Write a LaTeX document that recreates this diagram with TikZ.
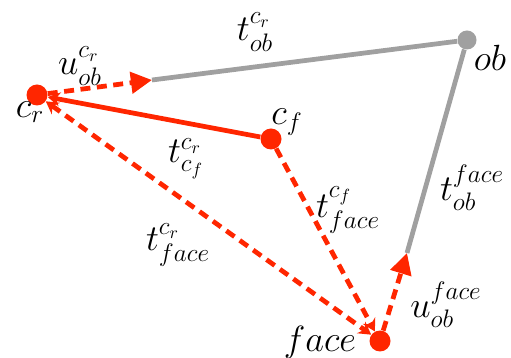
\documentclass[tikz,border=0pt]{standalone}
\usepackage{tikz}
\usepackage{xcolor}
\usepackage{amsmath}
\usetikzlibrary{arrows.meta,positioning}
\definecolor{cred}{RGB}{255,38,0}
\definecolor{cgray}{RGB}{160,160,160}

\begin{document}
\begin{tikzpicture}[
    rdot/.style={circle,fill=cred,minimum size=0.42cm,inner sep=0pt},
    gdot/.style={circle,fill=cgray,minimum size=0.38cm,inner sep=0pt},
    lbl/.style={font=\fontsize{20pt}{24pt}\selectfont,inner sep=1pt},
    rsolid/.style={cred,line width=2.7pt},
    rdash/.style={cred,line width=2.7pt,dash pattern=on 0.2cm off 0.13cm},
    gline/.style={cgray,line width=2.7pt}]
    \useasboundingbox (0,0) rectangle (10.22,7.16);
    % points
    \node[rdot] (cr)   at (0.74,5.26) {};
    \node[gdot] (ob)   at (9.34,6.36) {};
    \node[rdot] (cf)   at (5.42,4.38) {};
    \node[rdot] (face) at (7.6,0.34)  {};
    \coordinate (ucr)   at (3.04,5.56);
    \coordinate (uface) at (8.14,2.1);
    % gray transforms
    \draw[gline] (ucr) -- (ob);
    \draw[gline] (ob) -- (uface);
    % red transforms
    \draw[rsolid,-{Stealth[length=7pt,width=8pt]}] (cf) -- (cr);
    \draw[rdash,{Stealth[length=7pt,width=8pt]}-{Stealth[length=7pt,width=8pt]}] (cr) -- (face);
    \draw[rdash,-{Stealth[length=7pt,width=8pt]}] (cf) -- (face);
    \draw[rdash,-{Triangle[length=12pt,width=12pt]}] (cr) -- (ucr);
    \draw[rdash,-{Triangle[length=12pt,width=12pt]}] (face) -- (uface);
    % labels
    \node[lbl] (lcr)    at (0.6,4.92)  {$c_r$};
    \node[lbl] (lob)    at (9.8,6.0)   {$ob$};
    \node[lbl] (lcf)    at (5.74,4.72) {$c_f$};
    \node[lbl] (lface)  at (6.4,0.32)  {$face$};
    \node[lbl] (tobcr)  at (5.1,6.52)  {$t_{ob}^{c_r}$};
    \node[lbl] (uobcr)  at (1.6,5.84)  {$u_{ob}^{c_r}$};
    \node[lbl] (tcfcr)  at (3.72,3.98) {$t_{c_f}^{c_r}$};
    \node[lbl] (tfacecr) at (3.56,2.26) {$t_{face}^{c_r}$};
    \node[lbl] (tfacecf) at (6.96,2.96) {$t_{face}^{c_f}$};
    \node[lbl] (tobface) at (9.44,3.4)  {$t_{ob}^{face}$};
    \node[lbl] (uobface) at (8.92,1.06) {$u_{ob}^{face}$};
\end{tikzpicture}
\end{document}
